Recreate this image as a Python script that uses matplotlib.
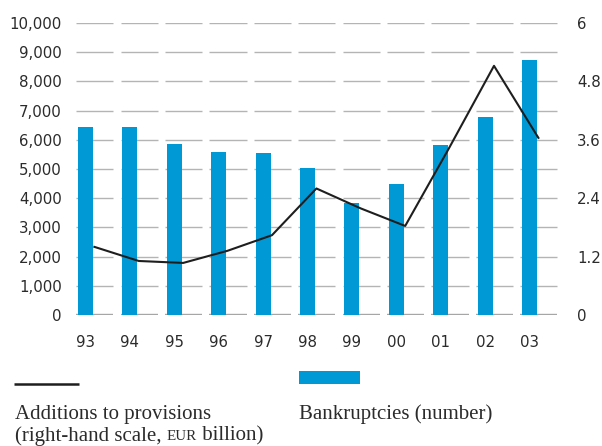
import matplotlib
matplotlib.use("Agg")
import matplotlib.pyplot as plt
from matplotlib.lines import Line2D
from matplotlib.patches import Rectangle

# Data
years = ["93", "94", "95", "96", "97", "98", "99", "00", "01", "02", "03"]
bankruptcies = [6440, 6440, 5860, 5580, 5550, 5030, 3840, 4490, 5820, 6780, 8730]
provisions = [1.40, 1.11, 1.07, 1.32, 1.64, 2.60, 2.19, 1.83, 3.45, 5.12, 3.64]
left_ticks = [0, 1000, 2000, 3000, 4000, 5000, 6000, 7000, 8000, 9000, 10000]
left_labels = ["0", "1,000", "2,000", "3,000", "4,000", "5,000",
               "6,000", "7,000", "8,000", "9,000", "10,000"]
right_ticks = [0, 1.2, 2.4, 3.6, 4.8, 6]
right_labels = ["0", "1.2", "2.4", "3.6", "4.8", "6"]

BLUE = "#0099d5"
GRID = "#b4b4b4"
ZERO = "#a6a6a6"
TEXT = "#2b2b2b"
W, H = 602, 446

fig = plt.figure(figsize=(W / 100, H / 100), dpi=100)
ax = fig.add_axes([74.4 / W, (H - 315) / H, (560.6 - 74.4) / W, 292 / H])

x = list(range(len(years)))

# Segmented gridlines, one segment per category
for yv in left_ticks:
    for i in x:
        ax.plot([i - 0.21, i + 0.63], [yv, yv],
                color=ZERO if yv == 0 else GRID,
                lw=1.7 if yv == 0 else 1.0,
                solid_capstyle="butt", zorder=1)

ax.bar(x, bankruptcies, width=0.34, color=BLUE, zorder=2)

ax.set_xlim(-0.25, 10.7)
ax.set_ylim(0, 10000)
ax.set_yticks(left_ticks)
ax.set_yticklabels(left_labels)
ax.set_xticks(x)
ax.set_xticklabels(years)
for s in ax.spines.values():
    s.set_visible(False)
ax.tick_params(axis="y", length=0, pad=9.1, labelsize=10.8, labelcolor=TEXT)
ax.tick_params(axis="x", length=0, pad=14.5, labelsize=10.8, labelcolor=TEXT)

ax2 = ax.twinx()
ax2.plot([i + 0.2 for i in x], provisions, color="#1e1e1e", lw=1.5, zorder=5)
ax2.set_ylim(0, 6)
ax2.set_yticks(right_ticks)
ax2.set_yticklabels(right_labels)
for s in ax2.spines.values():
    s.set_visible(False)
ax2.tick_params(axis="y", length=0, pad=11.8, labelsize=10.8, labelcolor=TEXT)

# Legend keys
fig.add_artist(Line2D([14 / W, 79 / W], [(H - 383.5) / H] * 2,
                      color="#1e1e1e", lw=1.8, solid_capstyle="butt"))
fig.add_artist(Rectangle((299 / W, (H - 384) / H), 61 / W, 13 / H,
                         facecolor=BLUE, edgecolor="none"))

serif = "Liberation Serif"
fs = 15.0
fig.text(15 / W, (H - 419.3) / H, "Additions to provisions",
         family=serif, fontsize=fs, color=TEXT, va="baseline", ha="left")
fig.text(299 / W, (H - 418.5) / H, "Bankruptcies (number)",
         family=serif, fontsize=fs, color=TEXT, va="baseline", ha="left")

# Second legend line with small-caps "EUR"
y2 = (H - 440.5) / H
fig.canvas.draw()
renderer = fig.canvas.get_renderer()
xpos = 15
for txt, size in [("(right-hand scale, ", fs), ("EUR", fs * 0.72), (" billion)", fs)]:
    t = fig.text(xpos / W, y2, txt, family=serif, fontsize=size, color=TEXT,
                 va="baseline", ha="left")
    xpos += t.get_window_extent(renderer).width

fig.savefig("out.png", dpi=100)
